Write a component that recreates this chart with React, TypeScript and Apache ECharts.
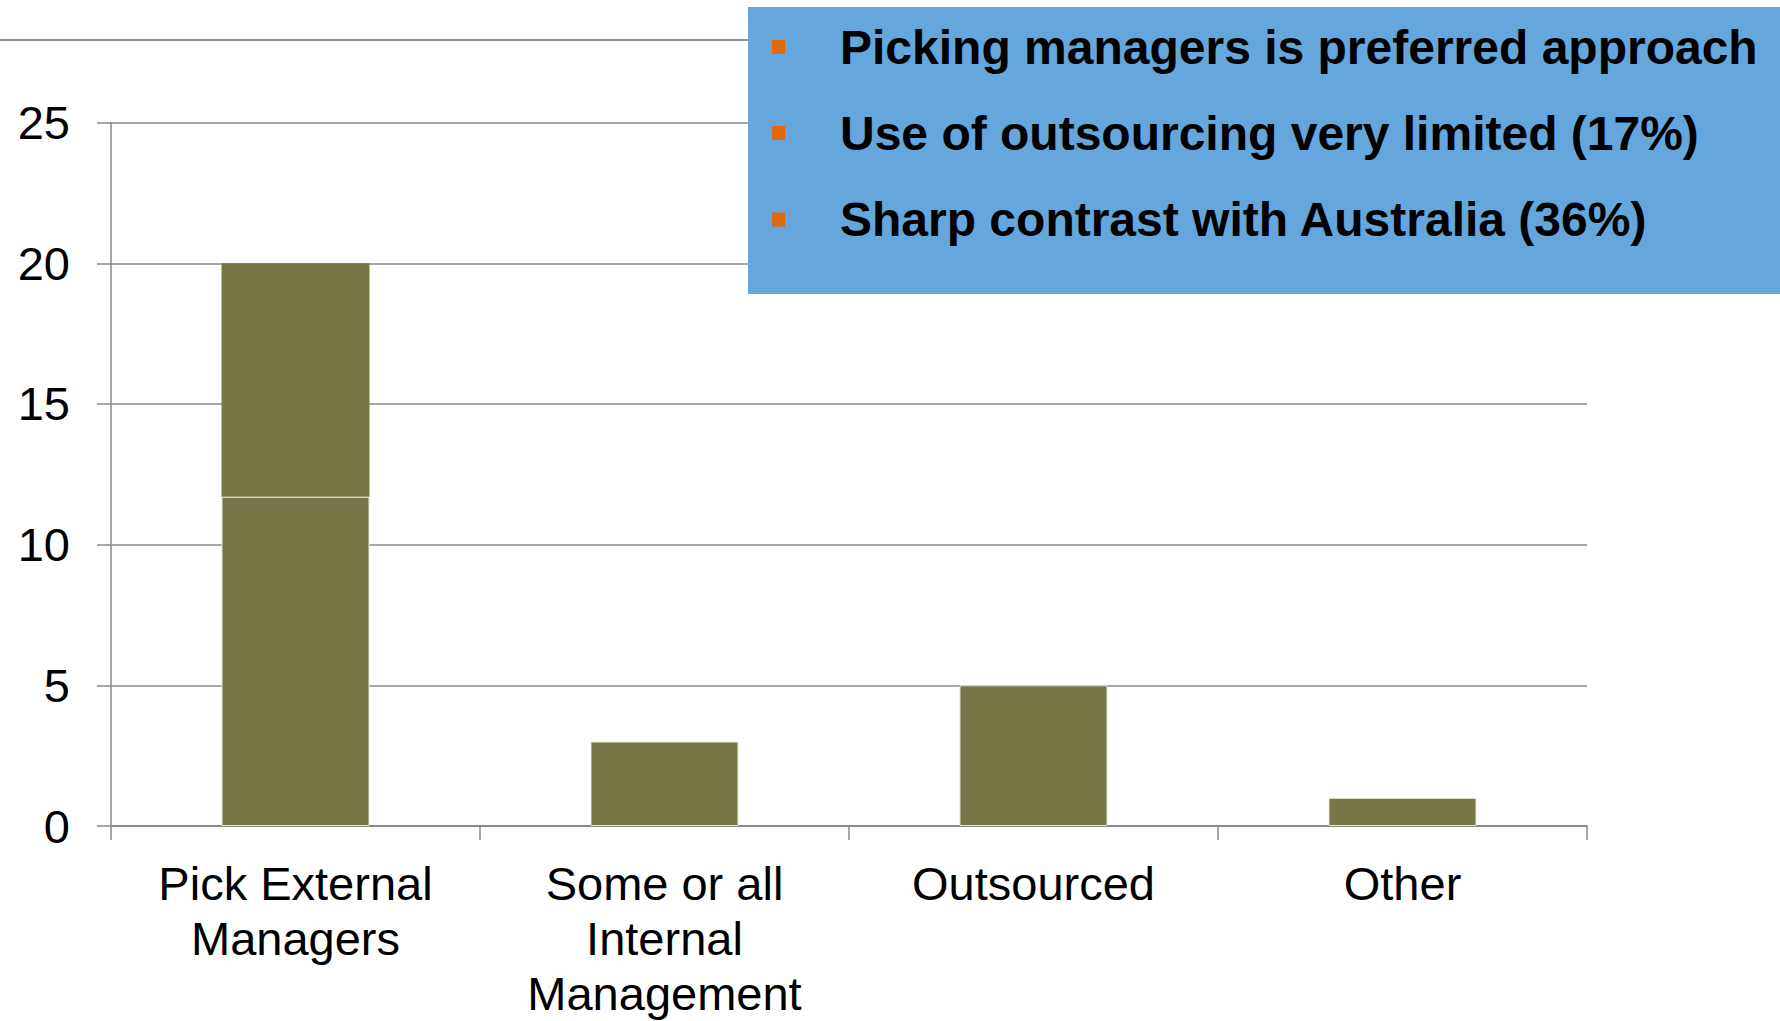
import React, { useEffect, useRef } from "react";
import * as echarts from "echarts";

const categories = ["Pick External\nManagers", "Some or all\nInternal\nManagement", "Outsourced", "Other"];
const baseValues = [11.7, 3, 5, 1];
const topValues: (number | string)[] = [8.3, "-", "-", "-"];
const yMin = 0;
const yMax = 25;
const yInterval = 5;
const bullets = [
  "Picking managers is preferred approach",
  "Use of outsourcing very limited (17%)",
  "Sharp contrast with Australia (36%)",
];

const FONT = '"Liberation Sans", Arial, Helvetica, sans-serif';
const GRAY = "#8a8a8a";
const BAR = "#777646";

export default function App() {
  const ref = useRef<HTMLDivElement>(null);
  useEffect(() => {
    if (!ref.current) return;
    const chart = echarts.init(ref.current, undefined, { renderer: "svg" });
    const rowY = [47, 133, 219.5];
    const graphics: any[] = [
      {
        type: "line",
        z: 100,
        shape: { x1: 0, y1: 40, x2: 748, y2: 40 },
        style: { stroke: "#909090", lineWidth: 2 },
      },
      {
        type: "rect",
        z: 100,
        shape: { x: 748, y: 7, width: 1032, height: 287 },
        style: { fill: "#65a7dc" },
      },
    ];
    bullets.forEach((b, i) => {
      graphics.push({
        type: "rect",
        z: 101,
        shape: { x: 772, y: rowY[i] - 7, width: 13, height: 14 },
        style: { fill: "#e0690b" },
      });
      graphics.push({
        type: "text",
        z: 101,
        x: 840,
        y: rowY[i],
        style: {
          text: b,
          fill: "#000",
          font: `bold 48px ${FONT}`,
          verticalAlign: "middle",
          align: "left",
        },
      });
    });
    chart.setOption({
      animation: false,
      backgroundColor: "#ffffff",
      grid: { left: 111, right: 193, top: 122.6, bottom: 193.4, containLabel: false },
      xAxis: {
        type: "category",
        data: categories,
        axisLine: { show: true, lineStyle: { color: GRAY, width: 2 } },
        axisTick: { show: true, length: 14, lineStyle: { color: GRAY, width: 1.5 } },
        axisLabel: {
          interval: 0,
          margin: 30,
          color: "#000",
          fontFamily: FONT,
          fontSize: 47,
          lineHeight: 55,
        },
        splitLine: { show: false },
      },
      yAxis: {
        type: "value",
        min: yMin,
        max: yMax,
        interval: yInterval,
        axisLine: { show: true, lineStyle: { color: GRAY, width: 1.5 } },
        axisTick: { show: true, length: 14, lineStyle: { color: GRAY, width: 1.5 } },
        axisLabel: { margin: 41, color: "#000", fontFamily: FONT, fontSize: 47 },
        splitLine: { show: true, lineStyle: { color: GRAY, width: 1.5 } },
      },
      series: [
        {
          type: "bar",
          stack: "s",
          data: baseValues,
          barWidth: 148,
          itemStyle: { color: BAR, borderColor: "#e6e5d2", borderWidth: 1 },
        },
        {
          type: "bar",
          stack: "s",
          data: topValues,
          barWidth: 148,
          itemStyle: { color: BAR },
        },
      ],
      graphic: graphics,
    });
    return () => chart.dispose();
  }, []);
  return (
    <div
      ref={ref}
      style={{ position: "absolute", left: 0, top: 0, width: 1780, height: 1021 }}
    />
  );
}
